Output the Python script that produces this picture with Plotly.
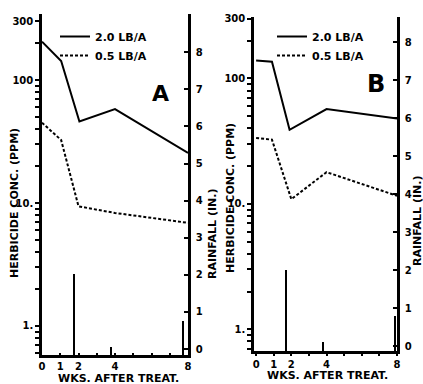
import plotly.graph_objects as go

# ---------------- data ----------------
weeks_A_hi = [0, 1.05, 2.05, 4.0, 8.0]
conc_A_hi = [205, 143, 46, 58, 25.5]
weeks_A_lo = [0, 1.05, 2.0, 4.0, 8.0]
conc_A_lo = [45, 32.5, 9.4, 8.3, 6.9]

weeks_B_hi = [0, 0.9, 1.9, 4.0, 8.0]
conc_B_hi = [139, 136, 39, 57, 48]
weeks_B_lo = [0, 0.9, 2.0, 4.0, 8.0]
conc_B_lo = [33.5, 32.5, 10.9, 17.9, 11.6]

rain_weeks_A = [1.75, 3.8, 7.75]
rain_A = [2.03, 0.05, 0.75]
rain_weeks_B = [1.7, 3.8, 7.9]
rain_B = [2.0, 0.1, 0.78]

series_names = ["2.0 LB/A", "0.5 LB/A"]
conc_tickvals = [0.6, 0.7, 0.8, 0.9, 1, 2, 3, 4, 5, 6, 7, 8, 9, 10,
                 20, 30, 40, 50, 60, 70, 80, 90, 100, 200, 300]
conc_ticktext = ["", "", "", "", "1.", "", "", "", "", "", "", "", "", "10.",
                 "", "", "", "", "", "", "", "", "100", "", "300"]
rain_tickvals = [0, 1, 2, 3, 4, 5, 6, 7, 8]
rain_ticktext = ["0", "1", "2", "3", "4", "5", "6", "7", "8"]
week_tickvals = [0, 1, 2, 3, 4, 5, 6, 7, 8]
week_ticktext = ["0", "1", "2", "", "4", "", "", "", "8"]

# ---------------- layout constants ----------------
W, H = 423, 384
FONT = "DejaVu Sans"
RAIN_RANGE_A = [-0.16, 9.03]
RAIN_RANGE_B = [-0.13, 8.66]
LOG_RANGE_A = [-0.236, 2.537]
LOG_RANGE_B = [-0.173, 2.49]


def px(x):
    return x / W


def py(y):
    return 1 - y / H


fig = go.Figure()

# Panel A
fig.add_trace(go.Bar(x=rain_weeks_A, y=[v - RAIN_RANGE_A[0] for v in rain_A],
                     base=RAIN_RANGE_A[0], width=0.11,
                     marker=dict(color="black", line=dict(width=0)),
                     xaxis="x", yaxis="y2", showlegend=False))
fig.add_trace(go.Scatter(x=weeks_A_hi, y=conc_A_hi, mode="lines", name=series_names[0],
                         line=dict(color="black", width=2), xaxis="x", yaxis="y",
                         legend="legend"))
fig.add_trace(go.Scatter(x=weeks_A_lo, y=conc_A_lo, mode="lines", name=series_names[1],
                         line=dict(color="black", width=2, dash="3px,2px"),
                         xaxis="x", yaxis="y", legend="legend"))

# Panel B
fig.add_trace(go.Bar(x=rain_weeks_B, y=[v - RAIN_RANGE_B[0] for v in rain_B],
                     base=RAIN_RANGE_B[0], width=0.11,
                     marker=dict(color="black", line=dict(width=0)),
                     xaxis="x2", yaxis="y4", showlegend=False))
fig.add_trace(go.Scatter(x=weeks_B_hi, y=conc_B_hi, mode="lines", name=series_names[0],
                         line=dict(color="black", width=2), xaxis="x2", yaxis="y3",
                         legend="legend2"))
fig.add_trace(go.Scatter(x=weeks_B_lo, y=conc_B_lo, mode="lines", name=series_names[1],
                         line=dict(color="black", width=2, dash="3px,2px"),
                         xaxis="x2", yaxis="y3", legend="legend2"))

tickfont = dict(family=FONT, size=10, color="black", weight="bold")

xcommon = dict(showgrid=False, zeroline=False, showline=True, linecolor="black",
               linewidth=2.5, ticks="outside", ticklen=2, tickwidth=1.5,
               tickcolor="black", tickvals=week_tickvals, ticktext=week_ticktext,
               tickfont=tickfont, fixedrange=True, automargin=False)
ylog = dict(type="log", showgrid=False, zeroline=False, showline=True,
            linecolor="black", linewidth=2.5, ticks="outside", ticklen=4,
            tickwidth=1.5, tickcolor="black", tickvals=conc_tickvals,
            ticktext=conc_ticktext, tickfont=tickfont, automargin=False)
yrain = dict(showgrid=False, zeroline=False, showline=True, linecolor="black",
             linewidth=2.5, ticks="inside", ticklen=4, tickwidth=1.5,
             tickcolor="black", tickvals=rain_tickvals, ticktext=rain_ticktext,
             tickfont=tickfont, side="right", ticklabelstandoff=3, automargin=False)

legfont = dict(family=FONT, size=11, color="black", weight="bold")

fig.update_layout(
    width=W, height=H,
    margin=dict(l=0, r=0, t=0, b=0, autoexpand=False),
    paper_bgcolor="white", plot_bgcolor="rgba(0,0,0,0)",
    bargap=0,
    xaxis=dict(xcommon, domain=[px(42), px(188)], range=[0, 8.0], anchor="y",
               ticks="inside"),
    yaxis=dict(ylog, domain=[1 - 355 / H, 1 - 14 / H], range=LOG_RANGE_A, anchor="x"),
    yaxis2=dict(yrain, overlaying="y", anchor="x", range=RAIN_RANGE_A),
    xaxis2=dict(xcommon, domain=[px(254), px(397)], range=[-0.12, 8.0], anchor="y3"),
    yaxis3=dict(ylog, domain=[1 - 351 / H, 1 - 17 / H], range=LOG_RANGE_B, anchor="x2"),
    yaxis4=dict(yrain, overlaying="y3", anchor="x2", range=RAIN_RANGE_B),
    legend=dict(x=px(55), y=py(22), xanchor="left", yanchor="top",
                bgcolor="rgba(0,0,0,0)", itemwidth=30, tracegroupgap=0,
                font=legfont, traceorder="normal"),
    legend2=dict(x=px(272), y=py(22), xanchor="left", yanchor="top",
                 bgcolor="rgba(0,0,0,0)", itemwidth=30, tracegroupgap=0,
                 font=legfont, traceorder="normal"),
)

title_font = dict(family=FONT, size=11, color="black", weight="bold")
annos = [
    dict(text="HERBICIDE CONC. (PPM)", x=px(14), y=py(203), textangle=-90),
    dict(text="RAINFALL (IN.)", x=px(212), y=py(234), textangle=-90),
    dict(text="HERBICIDE CONC. (PPM)", x=px(230), y=py(198), textangle=-90),
    dict(text="RAINFALL (IN.)", x=px(417), y=py(221), textangle=-90),
    dict(text="WKS. AFTER TREAT.", x=px(118), y=py(378.2), textangle=0),
    dict(text="WKS. AFTER TREAT.", x=px(327), y=py(375), textangle=0),
]
for a in annos:
    fig.add_annotation(xref="paper", yref="paper", showarrow=False,
                       xanchor="center", yanchor="middle", font=title_font, **a)

fig.add_annotation(text="A", xref="paper", yref="paper", x=px(160), y=py(94),
                   showarrow=False, xanchor="center", yanchor="middle",
                   font=dict(family=FONT, size=22, color="black", weight="bold"))
fig.add_annotation(text="B", xref="paper", yref="paper", x=px(376), y=py(84),
                   showarrow=False, xanchor="center", yanchor="middle",
                   font=dict(family=FONT, size=24, color="black", weight="bold"))

fig.write_html("out.html")
